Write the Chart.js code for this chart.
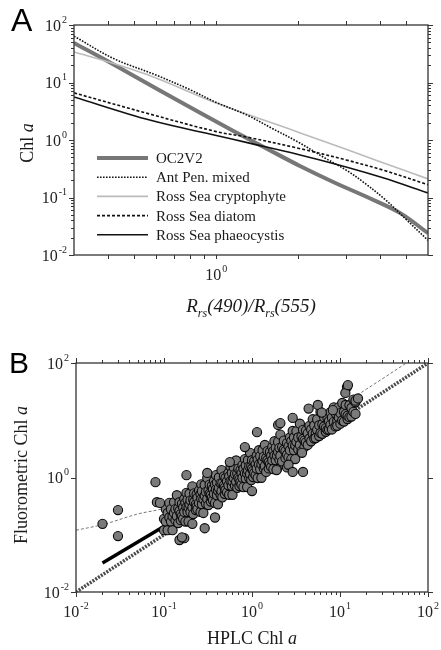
<!DOCTYPE html>
<html>
<head>
<meta charset="utf-8">
<script src="https://cdn.jsdelivr.net/npm/chart.js@4.4.1/dist/chart.umd.min.js"></script>
<style>
  html, body { margin: 0; padding: 0; background: #fff; }
  #wrap { position: relative; width: 441px; height: 650px; }
  canvas { position: absolute; left: 0; }
  #panelA { top: 0; }
  #panelB { top: 325px; }
</style>
</head>
<body>
<div id="wrap">
  <canvas id="panelA" width="441" height="325"></canvas>
  <canvas id="panelB" width="441" height="325"></canvas>
</div>
<script>
// ---- panel A : band-ratio algorithms ----
const ratioRange = [0.3, 6];
const chlRange = [0.01, 100];

const ratioOC2V2 = [0.3, 0.41, 0.625, 0.875, 1.156, 1.54, 2.03, 2.69, 3.58, 4.73, 6.0];
const chlOC2V2 = [48.6, 21.8, 7.1, 2.95, 1.44, 0.70, 0.353, 0.186, 0.102, 0.054, 0.024];

const ratioAntPen = [0.3, 0.42, 0.6, 0.8, 1.0, 1.3, 1.6, 2.0, 2.5, 3.0, 3.5, 4.2, 5.0, 6.0];
const chlAntPen = [64, 26, 13.5, 7.5, 4.5, 2.7, 1.6, 0.92, 0.49, 0.30, 0.18, 0.09, 0.041, 0.018];

const ratioCrypto = [0.3, 0.4, 0.6, 1.0, 2.0, 3.0, 4.0, 6.0];
const chlCrypto = [34, 23, 12, 4.4, 1.37, 0.69, 0.42, 0.21];

const ratioDiatom = [0.3, 0.574, 1.0, 1.3, 2.0, 3.0, 4.1, 6.0];
const chlDiatom = [6.6, 2.8, 1.4, 1.12, 0.72, 0.45, 0.30, 0.167];

const ratioPhaeo = [0.3, 0.574, 1.0, 1.3, 2.0, 3.0, 4.1, 6.0];
const chlPhaeo = [5.6, 2.2, 1.2, 0.9, 0.56, 0.34, 0.22, 0.12];

const legendNames = ['OC2V2', 'Ant Pen. mixed', 'Ross Sea cryptophyte', 'Ross Sea diatom', 'Ross Sea phaeocystis'];

const ratioTicks = [0.4, 0.5, 0.6, 0.7, 0.8, 0.9, 1, 2, 3, 4, 5];
const ratioTickLabels = [[1, '0']];
const decades = [0.01, 0.1, 1, 10, 100];
const decadeLabels = [[0.01, '-2'], [0.1, '-1'], [1, '0'], [10, '1'], [100, '2']];

// ---- panel B : HPLC vs fluorometric ----
const hplcRange = [0.01, 100];
const fluorRange = [0.01, 100];
const fluorTicks = [0.01, 1, 100];
const fluorTickLabels = [[0.01, '-2'], [1, '0'], [100, '2']];

const oneToOneX = [0.01, 100];
const oneToOneY = [0.01, 100];
const fitLinX = [0.01, 0.02, 0.05, 0.1, 0.2, 0.5, 1, 2, 5, 10, 20, 57];
const fitLinY = [0.12, 0.15, 0.23, 0.29, 0.44, 0.98, 1.9, 3.6, 9, 17.5, 35, 100];
const fitLogX = [0.02, 10];
const fitLogY = [0.032, 9.5];

// [HPLC, fluorometric]
const stations = [
  [0.10,0.19],[0.10,0.12],[0.105,0.28],[0.105,0.17],[0.11,0.24],[0.11,0.12],
  [0.115,0.20],[0.115,0.36],[0.12,0.17],[0.12,0.28],[0.125,0.21],[0.125,0.12],
  [0.13,0.37],[0.13,0.24],[0.135,0.18],[0.135,0.28],[0.14,0.21],[0.14,0.49],
  [0.145,0.16],[0.145,0.29],[0.15,0.26],[0.15,0.37],[0.155,0.18],[0.155,0.23],
  [0.16,0.35],[0.16,0.21],[0.165,0.30],[0.165,0.19],[0.17,0.42],[0.17,0.25],
  [0.175,0.36],[0.175,0.17],[0.18,0.30],[0.18,0.54],[0.185,0.25],[0.185,0.41],
  [0.19,0.30],[0.19,0.17],[0.195,0.52],[0.195,0.34],[0.20,0.25],[0.20,0.40],
  [0.21,0.30],[0.21,0.70],[0.215,0.23],[0.215,0.41],[0.22,0.37],[0.22,0.53],
  [0.23,0.27],[0.23,0.34],[0.235,0.51],[0.235,0.31],[0.24,0.44],[0.24,0.28],
  [0.25,0.59],[0.25,0.36],[0.26,0.51],[0.26,0.25],[0.265,0.42],[0.265,0.76],
  [0.27,0.34],[0.27,0.58],[0.28,0.42],[0.28,0.24],[0.29,0.74],[0.29,0.48],
  [0.30,0.35],[0.30,0.56],[0.31,0.42],[0.31,0.98],[0.32,0.33],[0.32,0.59],
  [0.33,0.52],[0.33,0.75],[0.34,0.38],[0.34,0.49],[0.35,0.72],[0.35,0.44],
  [0.36,0.63],[0.36,0.40],[0.37,0.87],[0.37,0.52],[0.38,0.75],[0.38,0.36],
  [0.39,0.62],[0.39,1.10],[0.40,0.49],[0.40,0.82],[0.41,0.59],[0.41,0.34],
  [0.42,1.00],[0.42,0.66],[0.44,0.50],[0.44,0.79],[0.45,0.58],[0.45,1.35],
  [0.46,0.45],[0.46,0.79],[0.48,0.72],[0.48,1.05],[0.49,0.52],[0.49,0.66],
  [0.50,0.98],[0.50,0.60],[0.52,0.86],[0.52,0.55],[0.54,1.20],[0.54,0.73],
  [0.55,1.04],[0.55,0.50],[0.57,0.86],[0.57,1.55],[0.59,0.71],[0.59,1.20],
  [0.60,0.86],[0.60,0.50],[0.62,1.50],[0.62,0.98],[0.64,0.72],[0.64,1.15],
  [0.66,0.84],[0.66,1.98],[0.68,0.66],[0.68,1.17],[0.70,0.99],[0.70,1.43],
  [0.72,0.71],[0.72,0.92],[0.74,1.35],[0.74,0.83],[0.76,1.18],[0.76,0.75],
  [0.78,1.65],[0.78,0.99],[0.80,1.41],[0.80,0.68],[0.83,1.17],[0.83,2.10],
  [0.85,0.96],[0.85,1.62],[0.88,1.18],[0.88,0.68],[0.90,2.00],[0.90,1.33],
  [0.93,0.98],[0.93,1.57],[0.95,1.14],[0.95,2.70],[0.98,0.90],[0.98,1.59],
  [1.00,1.41],[1.00,2.00],[1.03,1.02],[1.03,1.31],[1.06,1.94],[1.06,1.19],
  [1.10,1.70],[1.10,1.09],[1.13,2.40],[1.13,1.43],[1.16,2.05],[1.16,0.98],
  [1.20,1.69],[1.20,3.00],[1.24,1.40],[1.24,2.36],[1.28,1.71],[1.28,0.99],
  [1.32,3.00],[1.32,1.95],[1.36,1.44],[1.36,2.30],[1.40,1.58],[1.40,3.70],
  [1.45,1.25],[1.45,2.20],[1.50,2.00],[1.50,2.90],[1.55,1.44],[1.55,1.85],
  [1.60,2.80],[1.60,1.70],[1.65,2.40],[1.65,1.53],[1.70,3.40],[1.70,2.00],
  [1.75,2.90],[1.75,1.40],[1.80,2.40],[1.80,4.30],[1.86,2.00],[1.86,3.30],
  [1.92,2.40],[1.92,1.40],[1.98,4.20],[1.98,2.80],[2.05,2.05],[2.05,3.30],
  [2.10,2.40],[2.10,5.60],[2.20,1.90],[2.20,3.40],[2.30,3.06],[2.30,4.40],
  [2.40,2.20],[2.40,2.90],[2.50,4.00],[2.50,2.50],[2.60,3.50],[2.60,2.25],
  [2.70,5.00],[2.70,3.00],[2.80,4.30],[2.80,2.10],[2.90,3.60],[2.90,6.50],
  [3.00,3.00],[3.00,5.00],[3.10,3.65],[3.10,2.10],[3.20,6.40],[3.20,4.20],
  [3.35,3.10],[3.35,5.00],[3.50,3.70],[3.50,8.70],[3.65,2.90],[3.65,5.20],
  [3.80,4.70],[3.80,6.80],[3.95,3.40],[3.95,4.40],[4.10,6.60],[4.10,4.10],
  [4.30,5.90],[4.30,3.70],[4.50,8.00],[4.50,4.80],[4.70,6.90],[4.70,4.30],
  [4.90,5.80],[4.90,10.4],[5.10,4.80],[5.10,8.10],[5.30,5.90],[5.30,4.90],
  [5.50,10.4],[5.50,6.80],[5.80,5.30],[5.80,8.20],[6.00,6.00],[6.00,14.0],
  [6.30,5.80],[6.30,8.50],[6.60,7.80],[6.60,11.3],[6.90,6.30],[6.90,7.30],
  [7.20,11.0],[7.20,6.80],[7.50,9.70],[7.50,6.90],[7.80,13.8],[7.80,8.30],
  [8.10,11.1],[8.10,6.90],[8.50,9.35],[8.50,16.8],[8.90,7.80],[8.90,13.2],
  [9.30,9.70],[9.30,8.00],[9.70,17.0],[9.70,11.2],[10.1,8.70],[10.1,13.3],
  [10.6,9.90],[10.6,20.0],[11.1,9.50],[11.1,14.0],[11.6,12.8],[11.6,18.5],
  [12.2,10.5],[12.2,12.0],[12.8,18.3],[12.8,11.3],[13.5,16.4],[13.5,11.6],
  [14.2,23.0],[14.2,14.0],[15.0,20.6],[15.0,12.9],
  // scattered ones
  [0.02,0.155],[0.03,0.27],[0.03,0.095],[0.08,0.83],[0.083,0.37],[0.09,0.36],
  [0.15,0.081],[0.17,0.087],[0.16,0.09],[0.18,1.10],[0.21,0.155],[0.29,0.13],
  [0.38,0.20],[0.31,1.20],[0.56,1.86],[0.83,3.40],[1.14,6.20],[1.00,0.58],
  [1.90,1.35],[1.98,8.30],[2.10,8.90],[2.50,1.50],[2.60,1.67],[2.90,1.25],
  [3.70,2.70],[3.80,1.25],[2.90,11.0],[4.40,16.0],[5.60,18.5],[6.20,13.6],
  [8.30,15.0],[12.0,38.0],[11.5,30.0],[12.3,41.0],[15.0,22.0],[16.0,24.0]
];

const serif = '"Liberation Serif", "Times New Roman", serif';
const sans = '"Liberation Sans", Arial, sans-serif';

function zip(xs, ys) {
  return xs.map((x, i) => ({ x: x, y: ys[i] }));
}

function minorTicks(lo, hi) {
  const out = [];
  for (let d = lo; d < hi; d *= 10) {
    for (let m = 2; m <= 9; m++) out.push(d * m);
  }
  return out;
}

// "10" with a small raised exponent
function drawPow(ctx, exp, x, y, align) {
  ctx.font = '16px ' + serif;
  const wb = ctx.measureText('10').width;
  ctx.font = '10px ' + serif;
  const we = ctx.measureText(exp).width;
  const left = align === 'right' ? x - wb - we - 1 : x - (wb + we + 1) / 2;
  ctx.textAlign = 'left';
  ctx.textBaseline = 'alphabetic';
  ctx.font = '16px ' + serif;
  ctx.fillText('10', left, y);
  ctx.font = '10px ' + serif;
  ctx.fillText(exp, left + wb + 1, y - 8);
}

// mixed-font text centred on x, baseline y
function drawRich(ctx, parts, x, y) {
  let total = 0;
  parts.forEach(p => {
    ctx.font = p.font;
    p.w = ctx.measureText(p.t).width;
    total += p.w;
  });
  let cx = x - total / 2;
  ctx.textAlign = 'left';
  ctx.textBaseline = 'alphabetic';
  parts.forEach(p => {
    ctx.font = p.font;
    ctx.fillText(p.t, cx, y + (p.dy || 0));
    cx += p.w;
  });
}

function seg(ctx, x1, y1, x2, y2) {
  ctx.beginPath();
  ctx.moveTo(x1, y1);
  ctx.lineTo(x2, y2);
  ctx.stroke();
}

const axesFrame = {
  id: 'axesFrame',
  afterDraw(chart, args, opts) {
    const { ctx, chartArea: a } = chart;
    const xs = chart.scales.x, ys = chart.scales.y;
    ctx.save();
    ctx.strokeStyle = '#333';
    ctx.lineWidth = 1.3;
    ctx.strokeRect(a.left, a.top, a.right - a.left, a.bottom - a.top);
    ctx.lineWidth = 1;
    opts.xTicks.forEach(([v, len]) => {
      const px = Math.round(xs.getPixelForValue(v)) + 0.5;
      seg(ctx, px, a.bottom, px, a.bottom + len);
      seg(ctx, px, a.top, px, a.top - len);
    });
    opts.yTicks.forEach(([v, len]) => {
      const py = Math.round(ys.getPixelForValue(v)) + 0.5;
      seg(ctx, a.left, py, a.left - len, py);
      seg(ctx, a.right, py, a.right + len, py);
    });
    ctx.fillStyle = '#222';
    opts.xLabels.forEach(([v, exp]) => {
      drawPow(ctx, exp, xs.getPixelForValue(v), a.bottom + opts.xLabelDy, 'center');
    });
    opts.yLabels.forEach(([v, exp]) => {
      drawPow(ctx, exp, a.left - 7, ys.getPixelForValue(v) + 5.5, 'right');
    });
    if (opts.extra) opts.extra(ctx, chart);
    ctx.restore();
  }
};

function baseOptions(padding, xr, yr, frameOpts) {
  return {
    responsive: false,
    animation: false,
    layout: { padding: padding },
    scales: {
      x: { type: 'logarithmic', min: xr[0], max: xr[1], display: false },
      y: { type: 'logarithmic', min: yr[0], max: yr[1], display: false }
    },
    plugins: {
      legend: { display: false },
      tooltip: { enabled: false },
      axesFrame: frameOpts
    }
  };
}

// ---------- panel A ----------
const datasetsA = [
  { label: legendNames[0], data: zip(ratioOC2V2, chlOC2V2), borderColor: '#777', borderWidth: 4, order: 5 },
  { label: legendNames[1], data: zip(ratioAntPen, chlAntPen), borderColor: '#111', borderWidth: 1.6, borderDash: [1.6, 1.4], order: 2 },
  { label: legendNames[2], data: zip(ratioCrypto, chlCrypto), borderColor: '#bbb', borderWidth: 1.6, order: 4 },
  { label: legendNames[3], data: zip(ratioDiatom, chlDiatom), borderColor: '#111', borderWidth: 1.6, borderDash: [3, 2], order: 1 },
  { label: legendNames[4], data: zip(ratioPhaeo, chlPhaeo), borderColor: '#111', borderWidth: 1.6, order: 3 }
].map(d => Object.assign({ showLine: true, pointRadius: 0, fill: false, tension: 0.35 }, d));

const yTicksA = decades.map(v => [v, 5]).concat(minorTicks(0.01, 100).map(v => [v, 3]));

const optsA = baseOptions({ left: 74, right: 13, top: 25, bottom: 70 }, ratioRange, chlRange, {
  xTicks: ratioTicks.map(v => [v, 4]),
  yTicks: yTicksA,
  xLabels: ratioTickLabels,
  xLabelDy: 25,
  yLabels: decadeLabels,
  extra(ctx, chart) {
    const a = chart.chartArea;
    // legend
    chart.data.datasets.forEach((d, i) => {
      const y = 158 + i * 19.2;
      ctx.save();
      ctx.strokeStyle = d.borderColor;
      ctx.lineWidth = d.borderWidth;
      ctx.setLineDash(d.borderDash || []);
      seg(ctx, 97, y, 148, y);
      ctx.restore();
      ctx.fillStyle = '#1a1a1a';
      ctx.font = '15px ' + serif;
      ctx.textAlign = 'left';
      ctx.fillText(d.label, 156, y + 5);
    });
    // x title
    ctx.fillStyle = '#1a1a1a';
    const it = 'italic 19px ' + serif, sub = 'italic 12px ' + serif;
    drawRich(ctx, [
      { t: 'R', font: it }, { t: 'rs', font: sub, dy: 5 }, { t: '(490)/', font: it },
      { t: 'R', font: it }, { t: 'rs', font: sub, dy: 5 }, { t: '(555)', font: it }
    ], (a.left + a.right) / 2, 312);
    // y title
    ctx.save();
    ctx.translate(33, 143);
    ctx.rotate(-Math.PI / 2);
    drawRich(ctx, [{ t: 'Chl ', font: '18px ' + serif }, { t: 'a', font: 'italic 18px ' + serif }], 0, 0);
    ctx.restore();
    // panel letter
    ctx.font = '32px ' + sans;
    ctx.fillStyle = '#000';
    ctx.fillText('A', 11, 31);
  }
});

new Chart(document.getElementById('panelA'), {
  type: 'scatter',
  data: { datasets: datasetsA },
  options: optsA,
  plugins: [axesFrame]
});

// ---------- panel B ----------
const datasetsB = [
  {
    label: 'stations',
    data: stations.map(p => ({ x: p[0], y: p[1] })),
    backgroundColor: '#7a7a7a',
    borderColor: '#0a0a0a',
    borderWidth: 1.1,
    pointRadius: 4.6,
    order: 0
  },
  { label: '1:1', data: zip(oneToOneX, oneToOneY), showLine: true, pointRadius: 0, borderColor: '#4a4a4a', borderWidth: 3.5, borderDash: [2, 1.3], order: 3 },
  { label: 'linear fit', data: zip(fitLinX, fitLinY), showLine: true, pointRadius: 0, borderColor: '#777', borderWidth: 1, borderDash: [3, 2], cubicInterpolationMode: 'monotone', order: 2 },
  { label: 'log fit', data: zip(fitLogX, fitLogY), showLine: true, pointRadius: 0, borderColor: '#000', borderWidth: 3.5, order: 1 }
];

const optsB = baseOptions({ left: 76, right: 13, top: 38, bottom: 58 }, hplcRange, fluorRange, {
  xTicks: decades.map(v => [v, 5]).concat(minorTicks(0.01, 100).map(v => [v, 3])),
  yTicks: fluorTicks.map(v => [v, 5]),
  xLabels: decadeLabels,
  xLabelDy: 25,
  yLabels: fluorTickLabels,
  extra(ctx, chart) {
    const a = chart.chartArea;
    ctx.fillStyle = '#1a1a1a';
    drawRich(ctx, [{ t: 'HPLC Chl ', font: '18px ' + serif }, { t: 'a', font: 'italic 18px ' + serif }], (a.left + a.right) / 2, 319);
    ctx.save();
    ctx.translate(27, 150);
    ctx.rotate(-Math.PI / 2);
    drawRich(ctx, [{ t: 'Fluorometric Chl ', font: '18px ' + serif }, { t: 'a', font: 'italic 18px ' + serif }], 0, 0);
    ctx.restore();
    ctx.font = '30px ' + sans;
    ctx.fillStyle = '#000';
    ctx.fillText('B', 9, 48);
  }
});

new Chart(document.getElementById('panelB'), {
  type: 'scatter',
  data: { datasets: datasetsB },
  options: optsB,
  plugins: [axesFrame]
});
</script>
</body>
</html>
